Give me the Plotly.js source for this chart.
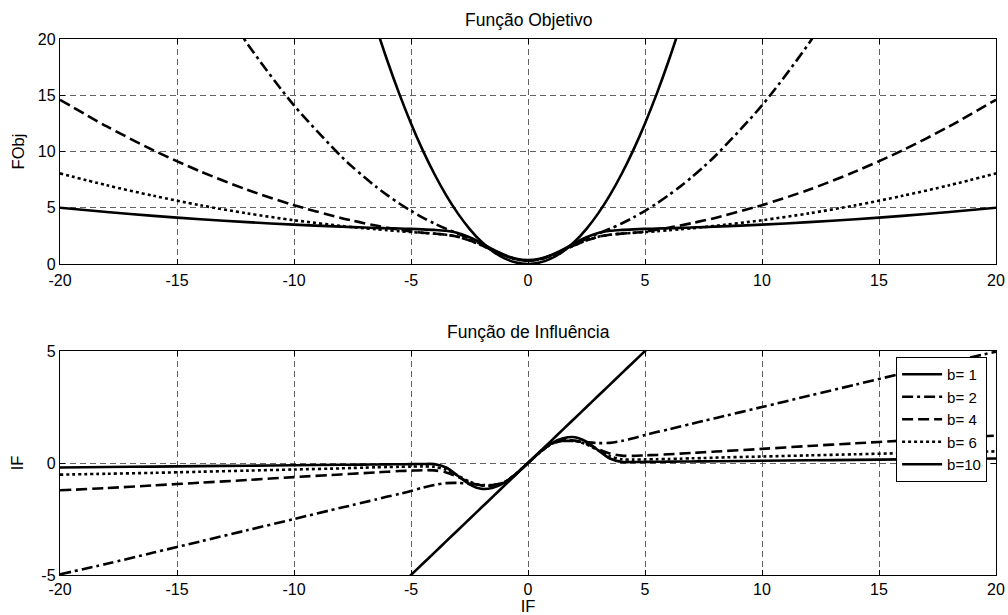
<!DOCTYPE html>
<html>
<head>
<meta charset="utf-8">
<script src="https://cdn.plot.ly/plotly-3.0.1.min.js"></script>
<style>
  html, body { margin: 0; padding: 0; background: #ffffff; }
  #chart { width: 1008px; height: 615px; }
</style>
</head>
<body>
<div id="chart"></div>
<script>
// Sample positions along the residual axis
const X = [-20, -18, -16, -14, -12, -10, -8, -7.5, -7, -6.5, -6, -5.5, -5, -4.5, -4, -3.5, -3, -2.5, -2, -1.5, -1, -0.5,
           0, 0.5, 1, 1.5, 2, 2.5, 3, 3.5, 4, 4.5, 5, 5.5, 6, 6.5, 7, 7.5, 8, 10, 12, 14, 16, 18, 20];

const seriesNames = ['b= 1', 'b= 2', 'b= 4', 'b= 6', 'b=10'];

// Objective function values (upper panel)
const fobjB1 = [null, null, null, null, null, null, null, null, 24.5, 21.125, 18, 15.125, 12.5, 10.125, 8, 6.125, 4.5, 3.125, 2, 1.125, 0.5, 0.125,
                0, 0.125, 0.5, 1.125, 2, 3.125, 4.5, 6.125, 8, 10.125, 12.5, 15.125, 18, 21.125, 24.5, null, null, null, null, null, null, null, null];
const fobjB2 = [null, null, null, 26.1, 19.6, 14.1, 9.6, 8.63, 7.73, 6.88, 6.1, 5.38, 4.73, 4.13, 3.6, 3.13, 2.7, 2.25, 1.75, 1.25, 0.78, 0.43,
                0.3, 0.43, 0.78, 1.25, 1.75, 2.25, 2.7, 3.13, 3.6, 4.13, 4.73, 5.38, 6.1, 6.88, 7.73, 8.63, 9.6, 14.1, 19.6, 26.1, null, null, null];
const fobjB4 = [14.6, 12.23, 10.1, 8.23, 6.6, 5.23, 4.1, 3.86, 3.63, 3.42, 3.23, 3.05, 2.88, 2.78, 2.7, 2.6, 2.42, 2.1, 1.68, 1.2, 0.75, 0.42,
                0.3, 0.42, 0.75, 1.2, 1.68, 2.1, 2.42, 2.6, 2.7, 2.78, 2.88, 3.05, 3.23, 3.42, 3.63, 3.86, 4.1, 5.23, 6.6, 8.23, 10.1, 12.23, 14.6];
const fobjB6 = [8.06, 7.0, 6.06, 5.22, 4.5, 3.89, 3.39, 3.28, 3.18, 3.09, 3.0, 2.92, 2.84, 2.77, 2.7, 2.6, 2.42, 2.1, 1.68, 1.2, 0.75, 0.42,
                0.3, 0.42, 0.75, 1.2, 1.68, 2.1, 2.42, 2.6, 2.7, 2.77, 2.84, 2.92, 3.0, 3.09, 3.18, 3.28, 3.39, 3.89, 4.5, 5.22, 6.06, 7.0, 8.06];
const fobjB10 = [5.0, 4.62, 4.28, 3.98, 3.72, 3.5, 3.32, 3.28, 3.25, 3.21, 3.18, 3.15, 3.12, 3.08, 3.03, 2.95, 2.76, 2.38, 1.86, 1.3, 0.8, 0.46,
                 0.35, 0.46, 0.8, 1.3, 1.86, 2.38, 2.76, 2.95, 3.03, 3.08, 3.12, 3.15, 3.18, 3.21, 3.25, 3.28, 3.32, 3.5, 3.72, 3.98, 4.28, 4.62, 5.0];

// Influence function values (lower panel)
const ifB1 = [null, null, null, null, null, null, null, null, null, null, -6, -5.5, -5, -4.5, -4, -3.5, -3, -2.5, -2, -1.5, -1, -0.5,
              0, 0.5, 1, 1.5, 2, 2.5, 3, 3.5, 4, 4.5, 5, 5.5, 6, null, null, null, null, null, null, null, null, null, null];
const ifB2 = [-4.97, -4.5, -4.0, -3.5, -3.0, -2.5, -2.0, -1.88, -1.75, -1.63, -1.5, -1.38, -1.25, -1.1, -0.98, -0.9, -0.89, -0.93, -0.98, -0.98, -0.87, -0.47,
              0, 0.47, 0.87, 0.98, 0.98, 0.93, 0.89, 0.9, 0.98, 1.1, 1.25, 1.38, 1.5, 1.63, 1.75, 1.88, 2.0, 2.5, 3.0, 3.5, 4.0, 4.5, 4.97];
const ifB4 = [-1.22, -1.12, -1.0, -0.88, -0.76, -0.63, -0.51, -0.48, -0.45, -0.42, -0.39, -0.36, -0.34, -0.32, -0.33, -0.42, -0.62, -0.86, -1.0, -1.0, -0.85, -0.47,
              0, 0.47, 0.85, 1.0, 1.0, 0.86, 0.62, 0.42, 0.33, 0.32, 0.34, 0.36, 0.39, 0.42, 0.45, 0.48, 0.51, 0.63, 0.76, 0.88, 1.0, 1.12, 1.22];
const ifB6 = [-0.52, -0.48, -0.44, -0.39, -0.34, -0.29, -0.24, -0.22, -0.21, -0.19, -0.18, -0.17, -0.16, -0.15, -0.17, -0.3, -0.56, -0.83, -0.99, -1.0, -0.85, -0.47,
              0, 0.47, 0.85, 1.0, 0.99, 0.83, 0.56, 0.3, 0.17, 0.15, 0.16, 0.17, 0.18, 0.19, 0.21, 0.22, 0.24, 0.29, 0.34, 0.39, 0.44, 0.48, 0.52];
const ifB10 = [-0.2, -0.18, -0.16, -0.14, -0.12, -0.1, -0.08, -0.075, -0.07, -0.065, -0.06, -0.055, -0.05, -0.045, -0.05, -0.2, -0.57, -0.95, -1.15, -1.1, -0.88, -0.48,
               0, 0.48, 0.88, 1.1, 1.15, 0.95, 0.57, 0.2, 0.05, 0.045, 0.05, 0.055, 0.06, 0.065, 0.07, 0.075, 0.08, 0.1, 0.12, 0.14, 0.16, 0.18, 0.2];

// Tick labels (plain hyphen for negatives)
const xTickVals = [-20, -15, -10, -5, 0, 5, 10, 15, 20];
const xTickText = ['-20', '-15', '-10', '-5', '0', '5', '10', '15', '20'];
const y1TickVals = [0, 5, 10, 15, 20];
const y1TickText = ['0', '5', '10', '15', '20'];
const y2TickVals = [-5, 0, 5];
const y2TickText = ['-5', '0', '5'];

const fobjSeries = [fobjB1, fobjB2, fobjB4, fobjB6, fobjB10];
const ifSeries = [ifB1, ifB2, ifB4, ifB6, ifB10];
const dashes = ['solid', '11px,4px,3px,4px', '11px,5px', '3px,3px', 'solid'];

const LW = 2.6;
const traces = [];
seriesNames.forEach((name, i) => {
  traces.push({
    x: X, y: fobjSeries[i], xaxis: 'x', yaxis: 'y',
    type: 'scatter', mode: 'lines', name: name, legendgroup: name, showlegend: false,
    line: { color: '#000000', width: LW, dash: dashes[i], shape: 'spline', smoothing: 0.8 },
    connectgaps: false, hoverinfo: 'skip'
  });
});
seriesNames.forEach((name, i) => {
  traces.push({
    x: X, y: ifSeries[i], xaxis: 'x2', yaxis: 'y2',
    type: 'scatter', mode: 'lines', name: name, legendgroup: name, showlegend: true,
    line: { color: '#000000', width: LW, dash: dashes[i], shape: 'spline', smoothing: 0.8 },
    connectgaps: false, hoverinfo: 'skip'
  });
});

const FONT = 'Liberation Sans, Arial, Helvetica, sans-serif';
const axisCommon = {
  showline: true, mirror: 'ticks', linecolor: '#000000', linewidth: 1.2,
  ticks: 'inside', ticklen: 5, tickwidth: 1, tickcolor: '#000000',
  showgrid: true, gridcolor: '#3a3a3a', gridwidth: 0.8, griddash: '6px,4px',
  zeroline: false, tickfont: { family: FONT, size: 16, color: '#000000' },
  fixedrange: true
};

const layout = {
  width: 1008, height: 615,
  margin: { l: 60, r: 12, t: 39, b: 40, pad: 0 },
  paper_bgcolor: '#ffffff', plot_bgcolor: '#ffffff',
  font: { family: FONT, size: 16, color: '#000000' },
  showlegend: true,
  legend: {
    x: 0.9905, xanchor: 'right', y: 0.4067, yanchor: 'top',
    bgcolor: '#ffffff', bordercolor: '#000000', borderwidth: 1,
    font: { family: FONT, size: 15, color: '#000000' },
    tracegroupgap: 0, itemwidth: 40
  },
  xaxis: Object.assign({}, axisCommon, {
    domain: [0, 1], anchor: 'y', range: [-20, 20],
    tickmode: 'array', tickvals: xTickVals, ticktext: xTickText,
    ticklabelstandoff: 2
  }),
  yaxis: Object.assign({}, axisCommon, {
    domain: [0.5802, 1], anchor: 'x', range: [0, 20],
    tickmode: 'array', tickvals: y1TickVals, ticktext: y1TickText,
    title: { text: 'FObj', font: { family: FONT, size: 16.5, color: '#000000' }, standoff: 9 }
  }),
  xaxis2: Object.assign({}, axisCommon, {
    domain: [0, 1], anchor: 'y2', range: [-20, 20],
    tickmode: 'array', tickvals: xTickVals, ticktext: xTickText,
    title: { text: 'IF', font: { family: FONT, size: 16.5, color: '#000000' }, standoff: 7 }
  }),
  yaxis2: Object.assign({}, axisCommon, {
    domain: [0, 0.4179], anchor: 'x2', range: [-5, 5],
    tickmode: 'array', tickvals: y2TickVals, ticktext: y2TickText,
    title: { text: 'IF', font: { family: FONT, size: 16.5, color: '#000000' }, standoff: 13 }
  }),
  annotations: [
    { text: 'Função Objetivo', xref: 'paper', yref: 'paper', x: 0.5, y: 1 + 19 / 536,
      xanchor: 'center', yanchor: 'middle', showarrow: false,
      font: { family: FONT, size: 17.5, color: '#000000' } },
    { text: 'Função de Influência', xref: 'paper', yref: 'paper', x: 0.5, y: 0.4179 + 19 / 536,
      xanchor: 'center', yanchor: 'middle', showarrow: false,
      font: { family: FONT, size: 17.5, color: '#000000' } }
  ]
};

Plotly.newPlot('chart', traces, layout, { displayModeBar: false, staticPlot: true });
</script>
</body>
</html>
